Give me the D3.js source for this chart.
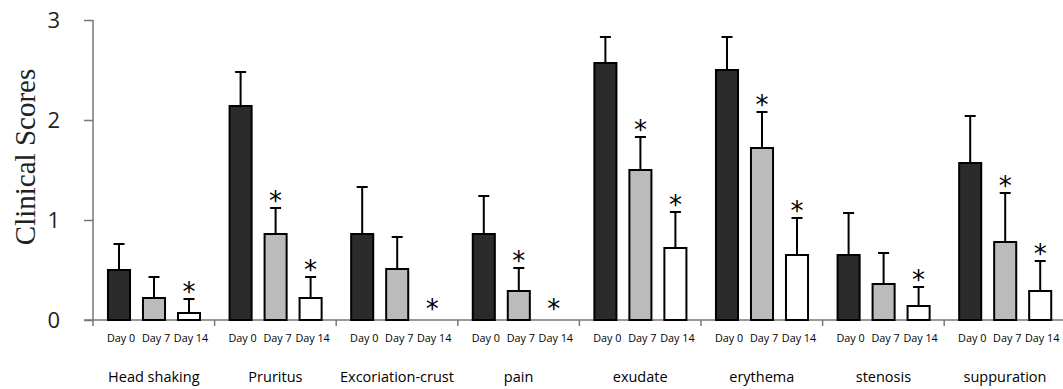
<!DOCTYPE html>
<html><head><meta charset="utf-8">
<script src="https://cdn.jsdelivr.net/npm/d3@7"></script>
<style>html,body{margin:0;padding:0;background:#fff;}svg{display:block;}</style>
</head><body>
<svg id="chart" width="1063" height="389"></svg>
<script>
const categories = ["Head shaking","Pruritus","Excoriation-crust","pain","exudate","erythema","stenosis","suppuration"];
const days = ["Day 0","Day 7","Day 14"];
const day0 = [0.5, 2.14, 0.86, 0.86, 2.57, 2.5, 0.65, 1.57];
const day0Err = [0.26, 0.34, 0.47, 0.38, 0.26, 0.33, 0.42, 0.47];
const day7 = [0.22, 0.86, 0.51, 0.29, 1.5, 1.72, 0.36, 0.78];
const day7Err = [0.21, 0.26, 0.32, 0.23, 0.33, 0.36, 0.31, 0.49];
const day14 = [0.07, 0.22, 0, 0, 0.72, 0.65, 0.14, 0.29];
const day14Err = [0.14, 0.21, 0, 0, 0.36, 0.37, 0.19, 0.30];
const sig7 = [false, true, false, true, true, true, false, true];
const sig14 = [true, true, true, true, true, true, true, true];
const yTicks = [0, 1, 2, 3];
const fills = ["#2b2b2b", "#bbbbbb", "#ffffff"];

const svg = d3.select("#chart");
const x0 = 93, groupW = 121.6;
const x = d3.scaleBand().domain(categories).range([x0, x0 + groupW * categories.length]).padding(0);
const xi = d3.scaleBand().domain(days).range([8.5, 113.5]).paddingInner(0.37).paddingOuter(0.185);
const y = d3.scaleLinear().domain([0, 3]).range([320, 20]);

const series = [day0, day7, day14], errs = [day0Err, day7Err, day14Err];
const sigs = [categories.map(() => false), sig7, sig14];
const rows = [];
categories.forEach((c, i) => days.forEach((d, j) => rows.push({c, d, j, v: series[j][i], e: errs[j][i], s: sigs[j][i]})));

// y axis
const yAxis = svg.append("g").attr("transform", `translate(${x0},0)`)
  .call(d3.axisLeft(y).tickValues(yTicks).tickSize(9).tickPadding(24).tickFormat(d3.format("d")));
yAxis.select(".domain").attr("stroke", "#777").attr("stroke-width", 1.5).attr("d", `M0,${y(3)}V${y(0)}`);
yAxis.selectAll(".tick line").attr("stroke", "#777").attr("stroke-width", 1.5);
yAxis.selectAll(".tick text").attr("font-family", "Open Sans, sans-serif").attr("font-size", 22).attr("fill", "#222");

// x axis line and group ticks
svg.append("line").attr("x1", 84).attr("x2", 1063).attr("y1", y(0)).attr("y2", y(0)).attr("stroke", "#777").attr("stroke-width", 1.5);
svg.selectAll(".gtick").data(categories).enter().append("line")
  .attr("x1", d => x(d)).attr("x2", d => x(d)).attr("y1", y(0)).attr("y2", y(0) + 6)
  .attr("stroke", "#777").attr("stroke-width", 1.5);

// bars
const g = svg.append("g");
const bars = rows.filter(r => r.v > 0);
g.selectAll(".err").data(bars).enter().append("path")
  .attr("d", r => {
    const cx = x(r.c) + xi(r.d) + xi.bandwidth() / 2;
    return `M${cx},${y(r.v)}V${y(r.v + r.e)}M${cx - 5.5},${y(r.v + r.e)}H${cx + 5.5}`;
  }).attr("stroke", "#000").attr("stroke-width", 2).attr("fill", "none");
g.selectAll(".bar").data(bars).enter().append("rect")
  .attr("x", r => x(r.c) + xi(r.d)).attr("width", xi.bandwidth())
  .attr("y", r => y(r.v)).attr("height", r => y(0) - y(r.v))
  .attr("fill", r => fills[r.j]).attr("stroke", "#000").attr("stroke-width", 2);

// asterisks
g.selectAll(".star").data(rows.filter(r => r.s)).enter().append("text")
  .attr("x", r => x(r.c) + xi(r.d) + xi.bandwidth() / 2)
  .attr("y", r => (r.v > 0 ? y(r.v + r.e) + 2 : y(0) - 2.5))
  .attr("text-anchor", "middle").attr("font-family", "DejaVu Sans, sans-serif").attr("font-size", 26)
  .attr("fill", "#000").text("*");

// day labels
svg.selectAll(".day").data(rows).enter().append("text")
  .attr("x", r => x(r.c) + xi(r.d) + xi.bandwidth() / 2 + 2).attr("y", 342)
  .attr("text-anchor", "middle").attr("font-family", "Open Sans, sans-serif").attr("font-size", 10.8)
  .attr("fill", "#000").text(r => r.d);

// category labels
svg.selectAll(".cat").data(categories).enter().append("text")
  .attr("x", d => x(d) + x.bandwidth() / 2).attr("y", 382)
  .attr("text-anchor", "middle").attr("font-family", "Open Sans, sans-serif").attr("font-size", 14.5)
  .attr("fill", "#000").text(d => d);

// y title
svg.append("text").attr("transform", "translate(35,157) rotate(-90)")
  .attr("text-anchor", "middle").attr("font-family", "Liberation Serif, serif").attr("font-size", 29)
  .attr("fill", "#222").text("Clinical Scores");
</script>
</body></html>
